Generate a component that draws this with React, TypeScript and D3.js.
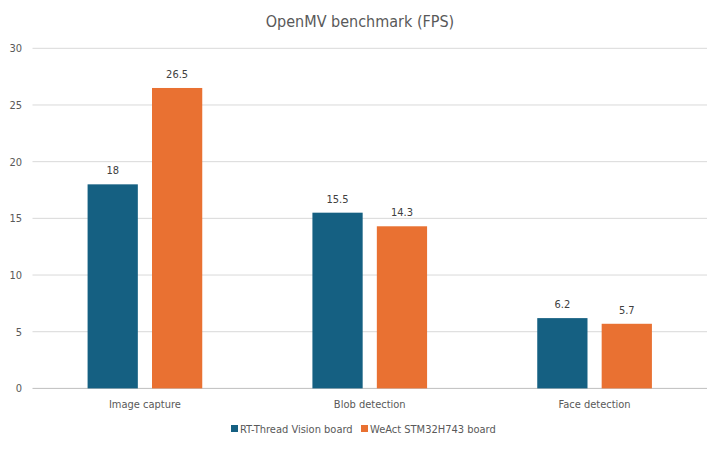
import { useEffect, useRef } from 'react'
import * as d3 from 'd3'

const CATEGORIES = ['Image capture', 'Blob detection', 'Face detection']
const SERIES = ['RT-Thread Vision board', 'WeAct STM32H743 board']
const RT_THREAD = [18, 15.5, 6.2]
const WEACT = [26.5, 14.3, 5.7]
const Y_TICKS = [0, 5, 10, 15, 20, 25, 30]
const COLORS = ['#156082', '#e97132']

const W = 720
const H = 449
const FONT = '"Liberation Sans Narrow", "DejaVu Sans Condensed", "Open Sans", sans-serif'

export default function App() {
  const svgRef = useRef<SVGSVGElement>(null)

  useEffect(() => {
    if (!svgRef.current) return
    const svg = d3.select(svgRef.current)
    svg.selectAll('*').remove()

    const values = [RT_THREAD, WEACT]
    const left = 32.5, right = 707, top = 48.3, bottom = 388.4

    // chart frame
    svg.append('rect').attr('x', 0.5).attr('y', 0.5).attr('width', W - 1).attr('height', H - 1)
      .attr('fill', '#fff').attr('stroke', '#d9d9d9')

    svg.append('text').attr('x', W / 2).attr('y', 27).attr('text-anchor', 'middle')
      .attr('fill', '#595959').attr('font-size', 16).attr('font-family', FONT)
      .text('OpenMV benchmark (FPS)')

    const y = d3.scaleLinear().domain([0, 30]).range([bottom, top])
    const x0 = d3.scaleBand<string>().domain(CATEGORIES).range([left, right]).paddingInner(0.49).paddingOuter(0.245)
    const x1 = d3.scaleBand<string>().domain(SERIES).range([0, x0.bandwidth()]).paddingInner(0.22)

    // grid + y labels
    const grid = svg.append('g')
    Y_TICKS.forEach(t => {
      grid.append('line').attr('x1', left).attr('x2', right).attr('y1', y(t)).attr('y2', y(t))
        .attr('stroke', t === 0 ? '#bfbfbf' : '#d9d9d9').attr('stroke-width', 1)
      grid.append('text').attr('x', 22).attr('y', y(t) + 4).attr('text-anchor', 'end')
        .attr('fill', '#595959').attr('font-size', 11).attr('font-family', FONT).text(t)
    })

    // bars
    CATEGORIES.forEach((c, ci) => {
      SERIES.forEach((s, si) => {
        const v = values[si][ci]
        const bx = (x0(c) ?? 0) + (x1(s) ?? 0)
        svg.append('rect').attr('x', bx).attr('y', y(v))
          .attr('width', x1.bandwidth()).attr('height', y(0) - y(v)).attr('fill', COLORS[si])
        svg.append('text').attr('x', bx + x1.bandwidth() / 2).attr('y', y(v) - 10)
          .attr('text-anchor', 'middle').attr('fill', '#404040').attr('font-size', 11)
          .attr('font-family', FONT).text(v)
      })
      svg.append('text').attr('x', (x0(c) ?? 0) + x0.bandwidth() / 2).attr('y', bottom + 20)
        .attr('text-anchor', 'middle').attr('fill', '#595959').attr('font-size', 11)
        .attr('font-family', FONT).text(c)
    })

    // legend
    const legendX = [231, 361]
    SERIES.forEach((s, si) => {
      const lg = svg.append('g').attr('transform', `translate(${legendX[si]},430)`)
      lg.append('rect').attr('x', 0).attr('y', -5).attr('width', 7).attr('height', 7).attr('fill', COLORS[si])
      lg.append('text').attr('x', 9).attr('y', 2.5).attr('fill', '#595959').attr('font-size', 11)
        .attr('font-family', FONT).text(s)
    })
  }, [])

  return (
    <div style={{ margin: -8, width: W, height: H }}>
      <svg ref={svgRef} width={W} height={H} style={{ display: 'block' }} />
    </div>
  )
}
